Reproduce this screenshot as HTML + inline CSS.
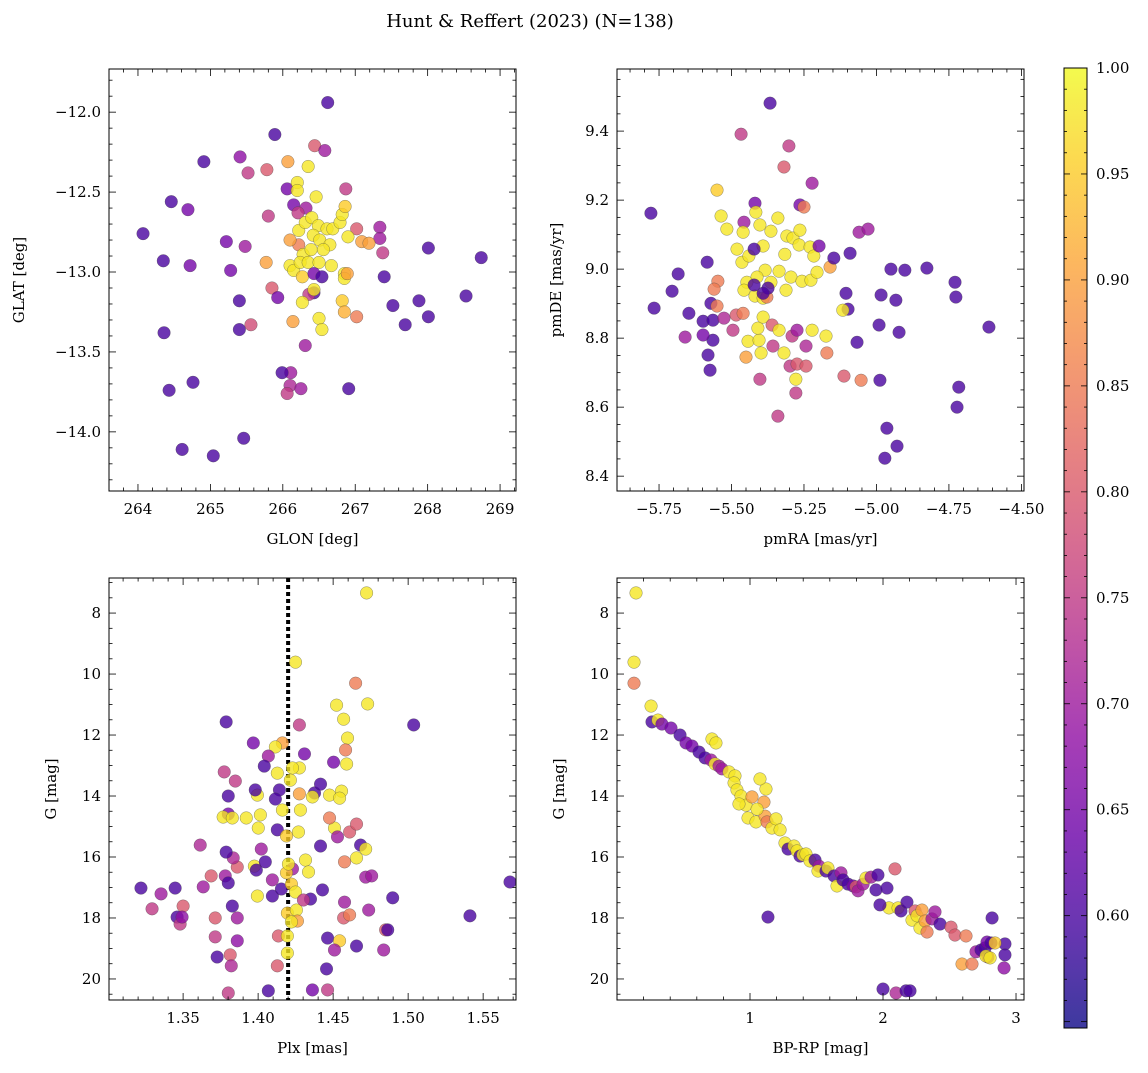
<!DOCTYPE html>
<html><head><meta charset="utf-8"><style>
body{margin:0;background:#fff}
svg{font-family:"DejaVu Serif","Liberation Serif",serif}
</style></head><body>
<svg id="fig" width="1148" height="1068" viewBox="0 0 1148 1068" xmlns="http://www.w3.org/2000/svg">
<text x="530" y="27" text-anchor="middle" font-size="18">Hunt &amp; Reffert (2023) (N=138)</text>
</svg>
<script>
// Panel 1: GLON vs GLAT
const p1X=[266.62,265.89,264.91,265.41,265.52,264.46,264.69,264.07,264.35,264.36,264.43,264.76,264.61,265.04,265.46,265.22,265.28,265.48,264.72,265.40,265.56,265.40,265.78,265.80,265.77,265.85,265.93,266.06,266.07,266.20,266.20,266.15,266.35,266.44,266.58,266.32,266.21,266.22,266.22,266.31,266.40,266.46,266.49,266.42,266.51,266.61,266.65,266.28,266.39,266.56,266.69,266.79,266.82,266.86,266.87,267.02,267.09,266.90,266.10,266.15,266.24,266.35,266.50,266.10,266.27,266.43,266.54,266.67,266.43,266.36,266.27,266.14,266.31,266.50,266.54,266.43,266.85,266.85,266.82,266.85,267.02,266.89,267.34,267.34,267.38,267.40,267.52,267.69,267.19,266.11,266.10,266.25,265.99,266.91,267.88,268.01,268.01,268.53,268.74,266.06];
const p1Y=[-11.94,-12.14,-12.31,-12.28,-12.38,-12.56,-12.61,-12.76,-12.93,-13.38,-13.74,-13.69,-14.11,-14.15,-14.04,-12.81,-12.99,-12.84,-12.96,-13.18,-13.33,-13.36,-12.36,-12.65,-12.94,-13.10,-13.16,-12.48,-12.31,-12.44,-12.49,-12.58,-12.34,-12.21,-12.24,-12.60,-12.63,-12.74,-12.83,-12.69,-12.66,-12.53,-12.71,-12.77,-12.80,-12.73,-12.83,-12.89,-12.86,-12.86,-12.73,-12.69,-12.64,-12.59,-12.48,-12.73,-12.81,-12.78,-12.96,-12.99,-12.94,-12.94,-12.94,-12.80,-13.03,-13.01,-13.03,-12.96,-13.13,-13.14,-13.19,-13.31,-13.46,-13.29,-13.36,-13.11,-13.01,-13.04,-13.18,-13.25,-13.28,-13.01,-12.72,-12.79,-12.88,-13.03,-13.21,-13.33,-12.82,-13.63,-13.71,-13.73,-13.63,-13.73,-13.18,-13.28,-12.85,-13.15,-12.91,-13.76];
const p1C=[.6,.6,.6,.68,.75,.6,.65,.6,.6,.6,.6,.6,.6,.6,.6,.65,.65,.7,.65,.6,.78,.6,.8,.75,.9,.8,.65,.65,.9,.98,.98,.65,.98,.8,.7,.7,.75,.98,.85,.98,.98,.98,.98,.98,.98,.98,.98,.98,.98,.98,.98,.98,.98,.95,.75,.8,.9,.98,.98,.98,.98,.98,.98,.9,.95,.65,.6,.98,.6,.75,.98,.9,.7,.98,.98,.98,.98,.98,.95,.92,.85,.9,.7,.7,.75,.6,.6,.6,.9,.7,.72,.7,.6,.6,.6,.6,.6,.6,.6,.75];
// Panel 2: pmRA vs pmDE
const p2X=[-5.367,-5.467,-5.302,-5.778,-5.767,-5.319,-5.222,-5.550,-5.536,-5.419,-5.416,-5.457,-5.402,-5.516,-5.460,-5.364,-5.264,-5.250,-5.340,-5.309,-5.288,-5.264,-5.267,-5.316,-5.229,-5.216,-5.391,-5.481,-5.464,-5.440,-5.384,-5.412,-5.447,-5.457,-5.419,-5.391,-5.364,-5.336,-5.295,-5.312,-5.257,-5.226,-5.205,-5.198,-5.160,-5.147,-5.091,-5.060,-5.029,-5.098,-5.067,-4.991,-4.902,-4.950,-4.984,-4.933,-4.922,-4.988,-4.964,-4.971,-4.929,-4.826,-4.729,-4.726,-4.612,-4.722,-4.716,-5.684,-5.705,-5.584,-5.647,-5.598,-5.571,-5.564,-5.547,-5.560,-5.550,-5.564,-5.598,-5.660,-5.526,-5.484,-5.495,-5.460,-5.443,-5.450,-5.405,-5.409,-5.398,-5.391,-5.378,-5.360,-5.402,-5.357,-5.336,-5.319,-5.298,-5.274,-5.278,-5.291,-5.274,-5.278,-5.243,-5.243,-5.222,-5.171,-5.174,-5.116,-5.340,-5.574,-5.581,-5.112,-5.053,-5.422,-5.422,-5.374,-5.105,-5.391];
const p2Y=[9.481,9.391,9.357,9.162,8.887,9.296,9.249,9.229,9.154,9.191,9.165,9.136,9.128,9.116,9.107,9.110,9.186,9.180,9.148,9.096,9.090,9.113,9.070,9.043,9.064,9.038,9.067,9.058,9.020,9.038,8.997,8.977,8.962,8.939,8.922,8.916,8.962,8.994,8.977,8.939,8.965,8.968,8.991,9.067,9.006,9.032,9.046,9.107,9.116,8.884,8.788,8.838,8.997,9.000,8.925,8.910,8.817,8.678,8.539,8.452,8.487,9.003,8.962,8.919,8.832,8.600,8.658,8.986,8.936,9.020,8.872,8.849,8.901,8.852,8.965,8.942,8.893,8.794,8.809,8.803,8.858,8.867,8.823,8.872,8.791,8.745,8.794,8.829,8.757,8.861,8.919,8.838,8.681,8.777,8.823,8.757,8.719,8.725,8.681,8.806,8.823,8.641,8.719,8.777,8.823,8.757,8.806,8.881,8.574,8.707,8.751,8.690,8.678,9.058,8.954,8.945,8.930,8.930];
const p2C=[.6,.75,.75,.6,.6,.8,.7,.95,.98,.65,.98,.7,.98,.98,.98,.98,.65,.85,.98,.98,.98,.98,.98,.98,.98,.98,.98,.98,.98,.98,.98,.98,.98,.98,.98,.98,.98,.98,.98,.98,.98,.98,.98,.65,.9,.6,.6,.7,.7,.6,.6,.6,.6,.6,.6,.6,.6,.6,.6,.6,.6,.6,.6,.6,.6,.6,.6,.6,.6,.6,.6,.6,.6,.6,.85,.85,.85,.6,.65,.7,.72,.8,.75,.85,.98,.9,.98,.98,.98,.98,.85,.8,.75,.75,.98,.98,.75,.8,.98,.75,.7,.75,.8,.72,.98,.85,.98,.98,.75,.6,.6,.8,.85,.6,.6,.6,.6,.6];
// Panel 3: Plx vs G
const p3X=[1.4723,1.4249,1.4650,1.3787,1.4275,1.4523,1.4730,1.5037,1.4570,1.4596,1.4583,1.4503,1.4590,1.4309,1.4275,1.4229,1.4215,1.4162,1.4115,1.4068,1.4041,1.4128,1.3968,1.3774,1.3848,1.3995,1.3801,1.3801,1.3981,1.4142,1.4275,1.4376,1.4362,1.4416,1.4476,1.4556,1.4282,1.4115,1.4015,1.3921,1.4162,1.4128,1.4001,1.3767,1.3828,1.4189,1.4269,1.4416,1.4316,1.4336,1.4509,1.4543,1.4476,1.4529,1.4576,1.4656,1.4610,1.4656,1.4683,1.4717,1.4717,1.4757,1.4229,1.3975,1.3861,1.3834,1.3781,1.4021,1.4048,1.3995,1.3988,1.4095,1.4095,1.4155,1.4189,1.4222,1.4249,1.4349,1.4429,1.3614,1.3787,1.3687,1.3634,1.3801,1.3500,1.3447,1.3460,1.3480,1.3493,1.3353,1.3293,1.3219,1.3828,1.3861,1.3714,1.3714,1.3727,1.3814,1.3821,1.3861,1.3801,1.4068,1.4135,1.4195,1.4255,1.4463,1.4570,1.4610,1.4543,1.4509,1.4456,1.4576,1.4656,1.4737,1.4850,1.4864,1.4837,1.4463,1.4362,1.4128,1.4195,1.4195,1.4262,1.4302,1.4897,1.5412,1.5679,1.4202,1.4222];
const p3Y=[7.34,9.61,10.30,11.57,11.67,11.02,10.98,11.67,11.48,12.10,12.49,12.89,12.95,12.62,13.08,13.08,13.48,12.26,12.39,12.69,13.02,13.25,12.26,13.21,13.51,13.97,14.00,14.59,13.80,13.80,13.93,13.90,14.03,13.61,13.97,13.84,14.46,14.10,14.62,14.72,14.46,15.11,15.05,14.69,14.72,15.31,15.18,15.64,16.10,16.49,15.05,14.07,14.72,15.34,16.16,16.03,15.18,14.92,15.61,15.74,16.66,16.62,16.39,16.30,16.33,16.03,16.62,15.74,16.16,17.28,16.43,16.75,17.28,17.05,16.52,16.89,17.15,17.38,17.08,15.61,15.84,16.62,16.98,16.85,17.61,17.02,17.97,18.20,17.97,17.21,17.70,17.02,17.61,18.00,18.00,18.62,19.28,19.21,19.57,18.75,20.46,20.39,18.59,17.84,17.74,18.66,18.00,17.90,18.75,19.05,19.67,17.48,18.92,17.74,18.39,18.39,19.05,20.36,20.36,19.57,19.15,18.59,18.10,17.41,17.34,17.93,16.82,16.23,18.13];
const p3C=[.98,.98,.85,.6,.75,.98,.98,.6,.98,.98,.85,.65,.98,.65,.98,.98,.98,.9,.98,.7,.6,.98,.65,.75,.75,.98,.6,.65,.6,.6,.9,.6,.98,.6,.98,.98,.98,.6,.98,.98,.98,.6,.98,.98,.98,.95,.98,.6,.98,.98,.98,.98,.85,.7,.85,.98,.8,.8,.6,.98,.7,.7,.7,.98,.8,.72,.7,.7,.6,.98,.6,.7,.6,.6,.95,.95,.98,.6,.6,.72,.6,.8,.7,.6,.8,.6,.6,.75,.68,.7,.75,.6,.6,.7,.8,.75,.6,.8,.72,.68,.75,.6,.8,.95,.98,.6,.8,.85,.95,.7,.6,.7,.6,.7,.8,.6,.7,.75,.65,.8,.98,.98,.9,.75,.6,.6,.6,.98,.98];
// Panel 4: BP-RP vs G
const p4X=[0.143,0.128,0.128,0.256,0.263,0.308,0.338,0.406,0.474,0.519,0.564,0.617,0.662,0.714,0.744,0.707,0.737,0.767,0.789,0.842,0.887,0.880,0.902,0.932,0.970,0.985,1.045,0.917,1.015,1.105,1.113,1.053,1.120,1.075,1.128,1.165,1.195,1.226,1.263,1.286,1.331,1.353,1.376,1.398,1.421,1.451,1.489,1.519,1.511,1.571,1.586,1.632,1.654,1.684,1.699,1.737,1.774,1.797,1.812,1.850,1.872,1.910,1.962,1.947,2.030,2.090,2.045,1.977,2.113,2.135,2.180,2.218,2.241,2.256,2.278,2.293,2.316,2.331,2.368,2.391,2.429,2.511,2.541,2.624,2.594,2.669,2.699,2.737,2.789,2.767,2.774,2.820,2.782,2.812,2.917,2.917,2.910,2.842,2.805,1.135,2.000,2.098,2.173,2.203];
const p4Y=[7.34,9.61,10.30,11.05,11.57,11.51,11.64,11.77,12.00,12.26,12.36,12.56,12.75,12.13,12.26,12.82,12.95,13.02,13.11,13.21,13.34,13.57,13.80,14.00,14.30,14.72,14.85,14.26,14.03,14.20,14.66,14.43,13.77,13.44,14.85,15.05,14.75,15.11,15.54,15.74,15.64,15.80,15.97,15.93,15.90,16.13,16.10,16.30,16.46,16.46,16.36,16.62,16.95,16.52,16.75,16.89,16.95,16.98,17.11,16.89,16.69,16.66,16.59,17.08,17.02,16.39,17.67,17.57,17.67,17.77,17.48,18.07,17.77,17.93,18.33,17.74,18.10,18.46,18.03,17.80,18.20,18.30,18.56,18.59,19.51,19.51,19.11,19.05,19.28,18.98,19.25,18.00,18.79,18.82,18.85,19.21,19.64,18.82,19.31,17.97,20.33,20.46,20.39,20.39];
const p4C=[.98,.98,.85,.98,.6,.98,.65,.65,.6,.65,.65,.6,.6,.98,.98,.7,.98,.7,.7,.98,.98,.98,.98,.98,.98,.98,.98,.98,.9,.9,.9,.98,.98,.98,.85,.98,.98,.98,.98,.6,.98,.98,.6,.98,.98,.98,.6,.7,.98,.6,.98,.6,.98,.7,.6,.6,.65,.8,.7,.7,.98,.7,.6,.6,.6,.8,.98,.6,.98,.6,.6,.98,.8,.98,.98,.9,.9,.85,.7,.7,.6,.8,.8,.85,.9,.85,.7,.6,.7,.6,.98,.6,.65,.6,.6,.6,.68,.95,.98,.6,.6,.72,.6,.6];
const plxLine=1.42;
const cbTicks=[0.60,0.65,0.70,0.75,0.80,0.85,0.90,0.95,1.00];
const cMin=0.547,cMax=1.0;

const NS="http://www.w3.org/2000/svg";
const svg=document.getElementById('fig');
function mk(tag,attrs,parent){const e=document.createElementNS(NS,tag);for(const k in attrs)e.setAttribute(k,attrs[k]);(parent||svg).appendChild(e);return e;}
const stops=[[0,'#0d0887'],[.1,'#41049d'],[.2,'#6a00a8'],[.3,'#8f0da4'],[.4,'#b12a90'],[.5,'#cc4778'],[.6,'#e16462'],[.7,'#f2844b'],[.8,'#fca636'],[.9,'#fcce25'],[1,'#f0f921']];
function hx(h){return[1,3,5].map(i=>parseInt(h.substr(i,2),16));}
function plasma(t){t=Math.max(0,Math.min(1,t));for(let i=1;i<stops.length;i++){if(t<=stops[i][0]){const a=stops[i-1],b=stops[i];const f=(t-a[0])/(b[0]-a[0]);const A=hx(a[1]),B=hx(b[1]);return 'rgb('+A.map((v,j)=>Math.round(v+(B[j]-v)*f)).join(',')+')';}}return stops[10][1];}
function fmt(v,d){return (v<0?'\u2212':'')+Math.abs(v).toFixed(d);}

function panel(o){
  const g=mk('g',{});
  
  
  const sx=v=>o.L+(v-o.x0)/(o.x1-o.x0)*(o.R-o.L);
  const sy=v=>o.B-(v-o.y0)/(o.y1-o.y0)*(o.B-o.T);
  if(o.extra)o.extra(g,sx,sy);
  for(let i=0;i<o.X.length;i++){
    const c=mk('circle',{cx:sx(o.X[i]),cy:sy(o.Y[i]),r:6.3,fill:plasma((o.C[i]-cMin)/(cMax-cMin)),'fill-opacity':0.8,stroke:'#444','stroke-opacity':0.6,'stroke-width':0.5},g);
    
    
  }
  const fr=mk('rect',{x:o.L,y:o.T,width:o.R-o.L,height:o.B-o.T,fill:'none',stroke:'#000','stroke-width':1},g);
  
  
  const xlo=Math.min(o.x0,o.x1),xhi=Math.max(o.x0,o.x1);
  for(let k=Math.ceil(xlo/o.xmin-1e-6);k*o.xmin<=xhi+1e-9;k++){
    const v=k*o.xmin;const X=sx(v);
    const maj=Math.abs(Math.round(v/o.xmaj)*o.xmaj-v)<1e-6;
    const len=maj?7:3.5;
    mk('line',{x1:X,x2:X,y1:o.B,y2:o.B-len,stroke:'#000','stroke-width':0.8},g);
    mk('line',{x1:X,x2:X,y1:o.T,y2:o.T+len,stroke:'#000','stroke-width':0.8},g);
    if(maj&&(!o.xskip||!o.xskip(v))){const t=mk('text',{x:X,y:o.B+23,'text-anchor':'middle','font-size':15},g);t.textContent=o.xf(v);
      
      }
  }
  const ylo=Math.min(o.y0,o.y1),yhi=Math.max(o.y0,o.y1);
  for(let k=Math.ceil(ylo/o.ymin-1e-6);k*o.ymin<=yhi+1e-9;k++){
    const v=k*o.ymin;const Y=sy(v);
    const maj=Math.abs(Math.round(v/o.ymaj)*o.ymaj-v)<1e-6;
    const len=maj?7:3.5;
    mk('line',{x1:o.L,x2:o.L+len,y1:Y,y2:Y,stroke:'#000','stroke-width':0.8},g);
    mk('line',{x1:o.R,x2:o.R-len,y1:Y,y2:Y,stroke:'#000','stroke-width':0.8},g);
    if(maj){const t=mk('text',{x:o.L-8,y:Y+5,'text-anchor':'end','font-size':15},g);t.textContent=o.yf(v);
      
      }
  }
  const xl=mk('text',{x:(o.L+o.R)/2,y:o.B+53,'text-anchor':'middle','font-size':15},g);xl.textContent=o.xlab;
  
  
  const yx=o.ylx, yc=(o.T+o.B)/2;
  const yl=mk('text',{x:yx,y:yc,'text-anchor':'middle','font-size':15,transform:`rotate(-90 ${yx} ${yc})`},g);yl.textContent=o.ylab;
  
  
}
panel({name:'glon-glat-panel',X:p1X,Y:p1Y,C:p1C,L:109,R:516,T:69,B:491,x0:263.60,x1:269.22,y0:-14.37,y1:-11.73,xmaj:1,xmin:0.2,ymaj:0.5,ymin:0.1,xf:v=>v.toFixed(0),yf:v=>fmt(v,1),xlab:'GLON [deg]',ylab:'GLAT [deg]',ylx:24});
panel({name:'proper-motion-panel',X:p2X,Y:p2Y,C:p2C,L:617,R:1024,T:69,B:491,x0:-5.895,x1:-4.491,y0:8.357,y1:9.580,xmaj:0.25,xmin:0.05,ymaj:0.2,ymin:0.05,xf:v=>fmt(v,2),yf:v=>v.toFixed(1),xlab:'pmRA [mas/yr]',ylab:'pmDE [mas/yr]',ylx:561});
panel({name:'parallax-panel',X:p3X,Y:p3Y,C:p3C,L:109,R:516,T:578,B:1000,x0:1.3006,x1:1.5719,y0:20.69,y1:6.85,xmaj:0.05,xmin:0.01,ymaj:2,ymin:0.5,xf:v=>v.toFixed(2),yf:v=>v.toFixed(0),xlab:'Plx [mas]',ylab:'G [mag]',ylx:56,
  extra:(g,sx,sy)=>{const l=mk('line',{x1:sx(plxLine),x2:sx(plxLine),y1:578,y2:1000,stroke:'#000','stroke-width':4,'stroke-dasharray':'4 3'},g);}});
panel({name:'cmd-panel',X:p4X,Y:p4Y,C:p4C,L:617,R:1024,T:578,B:1000,x0:0.0,x1:3.06,y0:20.69,y1:6.85,xmaj:1,xmin:0.2,ymaj:2,ymin:0.5,xf:v=>v.toFixed(0),yf:v=>v.toFixed(0),xlab:'BP-RP [mag]',ylab:'G [mag]',ylx:564,xskip:v=>v<0.5});
// colorbar
const cg=mk('g',{});


const defs=mk('defs',{},cg);
const lg=mk('linearGradient',{id:'cbg',x1:0,y1:1,x2:0,y2:0},defs);
for(let i=0;i<=20;i++){const t=i/20;mk('stop',{offset:t,'stop-color':plasma(t)},lg);}
const CT=68,CB=1028,CL=1064,CR=1087;
mk('rect',{x:CL,y:CT,width:CR-CL,height:CB-CT,fill:'url(#cbg)','fill-opacity':0.8},cg);
mk('rect',{x:CL,y:CT,width:CR-CL,height:CB-CT,fill:'none',stroke:'#000','stroke-width':1},cg);
const cy=v=>CB-(v-cMin)/(cMax-cMin)*(CB-CT);
for(let k=Math.ceil(cMin/0.01);k<=100;k++){const v=k/100;const Y=cy(v);const maj=k%5===0;
  mk('line',{x1:CR,x2:CR-(maj?6:3),y1:Y,y2:Y,stroke:'#000','stroke-width':0.8},cg);
  mk('line',{x1:CL,x2:CL+(maj?6:3),y1:Y,y2:Y,stroke:'#000','stroke-width':0.8},cg);}
cbTicks.forEach(v=>{const t=mk('text',{x:CR+9,y:cy(v)+5,'font-size':15},cg);t.textContent=v.toFixed(2);
  
  });
</script>
</body></html>
